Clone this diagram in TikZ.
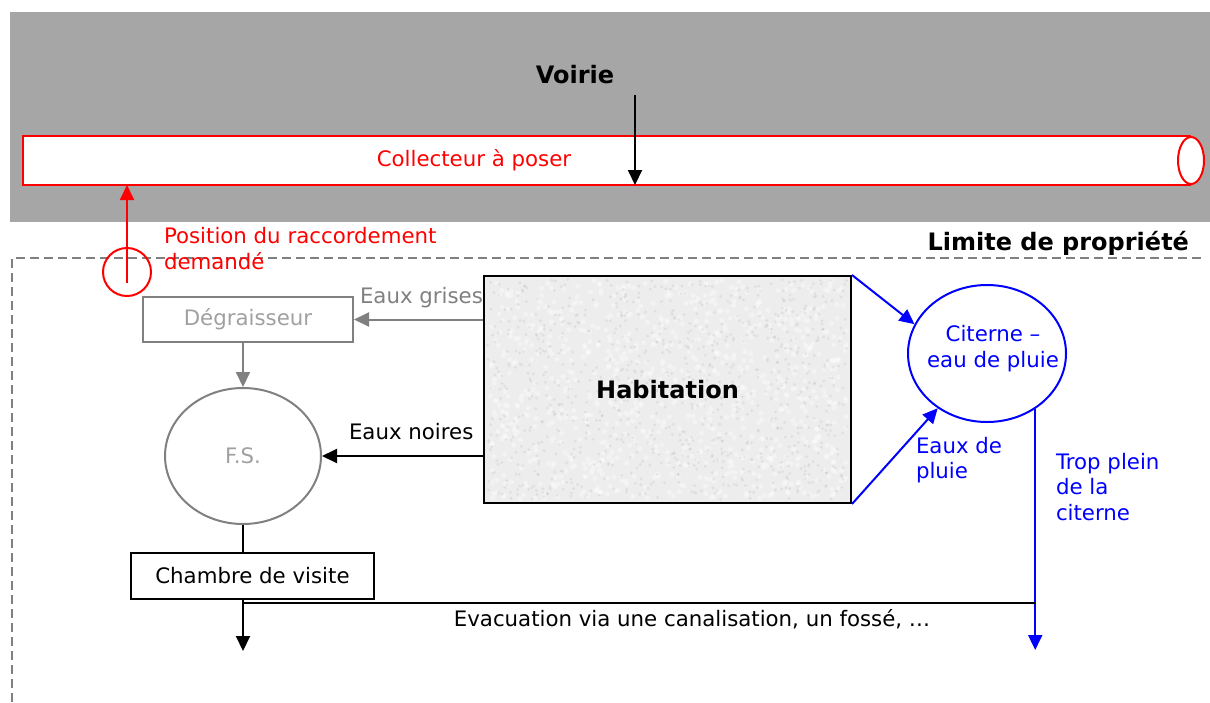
\documentclass[tikz,border=0pt]{standalone}
\usepackage{fontspec}
\setmainfont{DejaVu Sans}
\usetikzlibrary{arrows.meta,shapes.geometric}
\definecolor{roadgray}{HTML}{A6A6A6}
\definecolor{linegray}{HTML}{808080}
\definecolor{txtgray}{HTML}{A0A0A0}
\tikzset{
  txt/.style={inner sep=0pt, font=\fontsize{21.3}{25.5}\selectfont},
  bold/.style={inner sep=0pt, font=\fontsize{24}{28}\selectfont\bfseries},
  box/.style={draw, inner sep=0pt},
  tip/.style={-{Triangle[length=15pt,width=14pt]}},
}
\begin{document}
\begin{tikzpicture}[x=1pt,y=-1pt,line width=2pt]
    \useasboundingbox (0,0) rectangle (1210,702);
    % voirie et collecteur
    \fill [roadgray] (10,12) rectangle (1210,222);
    \node [bold] (voirie) at (575,75) {Voirie};
    \node [fill=white, minimum width=1166pt, minimum height=47pt, inner sep=0pt] (pipe) at (607,160.5) {};
    \draw [red] (pipe.north east) -- (pipe.north west) -- (pipe.south west) -- (pipe.south east);
    \node [ellipse, draw=red, fill=white, minimum width=26pt, minimum height=47pt, inner sep=0pt] (pipeend) at (pipe.east) {};
    \node [txt, red] (coll) at (474,160) {Collecteur à poser};
    \coordinate (drop) at (635,95);
    \draw [tip] (drop) -- (drop |- pipe.south);
    % limite de propriete
    \draw [linegray, dash pattern=on 9pt off 5pt] (12,702) -- (12,258) -- (1205,258);
    \node [bold, anchor=east] (limite) at (1190,243) {Limite de propriété};
    \node [circle, draw=red, minimum size=48pt, inner sep=0pt] (rac) at (127,272) {};
    \coordinate (racin) at (127,283);
    \draw [red, tip] (racin) -- (racin |- pipe.south);
    \node [txt, red, anchor=west, align=left] (pos) at (163,248.5) {Position du raccordement\\demandé};
    % habitation
    \pgfmathsetseed{12}
    \fill [gray!14] (484,276) rectangle (851,503);
    \foreach \k in {1,...,900} {
        \pgfmathsetmacro\hx{488+359*rnd}
        \pgfmathsetmacro\hy{280+219*rnd}
        \fill [white, opacity=0.35] (\hx,\hy) circle (2.5pt);
    }
    \foreach \k in {1,...,900} {
        \pgfmathsetmacro\hx{487+361*rnd}
        \pgfmathsetmacro\hy{279+221*rnd}
        \fill [gray, opacity=0.12] (\hx,\hy) circle (1.6pt);
    }
    \node [box, bold, minimum width=367pt, minimum height=227pt] (hab) at (667.5,389.5) {Habitation};
    % eaux usees
    \node [box, txt, draw=linegray, text=txtgray, minimum width=210pt, minimum height=45pt] (deg) at (248,319.5) {Dégraisseur};
    \node [ellipse, txt, draw=linegray, text=txtgray, minimum width=156pt, minimum height=136pt] (fs) at (243,456) {F.S.};
    \node [box, txt, minimum width=243pt, minimum height=46pt] (ch) at (252.5,576) {Chambre de visite};
    \node [txt, linegray, anchor=west] (grises) at (359,298) {Eaux grises};
    \node [txt, anchor=west] (noires) at (348,432) {Eaux noires};
    \draw [linegray, tip] (deg.east -| hab.west) -- (deg.east);
    \draw [linegray, tip] (deg.south -| fs.north) -- (fs.north);
    \draw [tip] (fs.east -| hab.west) -- (fs.east);
    \draw (fs.south) -- (fs.south |- ch.north);
    \coordinate (outlet) at (243,651);
    \draw [tip] (fs.south |- ch.south) -- (outlet);
    % eaux de pluie
    \node [ellipse, draw=blue, inner sep=0pt, minimum width=158pt, minimum height=137pt] (cit) at (987,353.5) {};
    \node [txt, blue, align=center] (citlbl) at (993,348.5) {Citerne –\\eau de pluie};
    \node [txt, blue, anchor=west, align=left] (pluie) at (915,460) {Eaux de\\pluie};
    \node [txt, blue, anchor=west, align=left] (trop) at (1055,487) {Trop plein\\de la\\citerne};
    \draw [blue, tip] (hab.north east) -- (cit.158);
    \draw [blue, tip] (hab.south east) -- (cit.228);
    \coordinate (tropout) at (1035,650);
    \draw [blue, tip] (cit.311) -- (cit.311 |- tropout);
    % evacuation
    \coordinate (evacl) at (243,603);
    \draw (evacl) -- (evacl -| tropout);
    \node [txt] (evac) at (692,619) {Evacuation via une canalisation, un fossé, …};
\end{tikzpicture}
\end{document}
